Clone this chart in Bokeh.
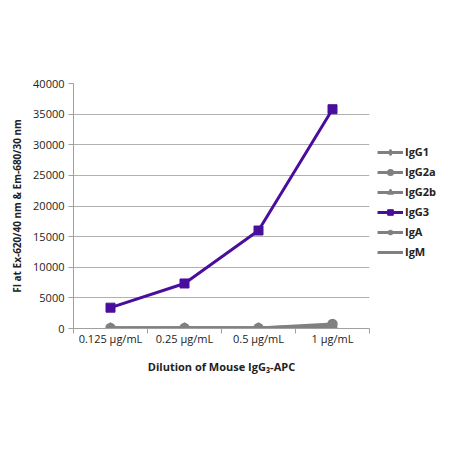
from bokeh.plotting import figure
from bokeh.models import FixedTicker, Range1d, Legend, LegendItem
from bokeh.embed import file_html
from bokeh.resources import INLINE

categories = ["0.125 µg/mL", "0.25 µg/mL", "0.5 µg/mL", "1 µg/mL"]
igg1 = [60, 70, 80, 350]
igg2a = [80, 90, 100, 750]
igg2b = [70, 80, 90, 550]
igg3 = [3400, 7350, 16000, 35800]
iga = [50, 60, 70, 250]
igm = [40, 50, 60, 150]
y_ticks = [0, 5000, 10000, 15000, 20000, 25000, 30000, 35000, 40000]

xpos = [i + 0.5 for i in range(len(categories))]
FONT = "Open Sans"
GRAY = "#808080"
PURPLE = "#4a0e9c"

p = figure(frame_width=296, frame_height=245, output_backend="svg", toolbar_location=None,
           x_range=Range1d(0, len(categories)), y_range=Range1d(0, 40000),
           min_border_left=73, min_border_top=83, min_border_bottom=50, min_border_right=0)
p.outline_line_color = None
p.background_fill_color = "white"

series = [
    ("IgG1", igg1, "diamond", 7),
    ("IgG2a", igg2a, "circle", 9),
    ("IgG2b", igg2b, "triangle", 9),
    ("IgA", iga, "asterisk", 8),
    ("IgM", igm, "dash", 8),
]
items = {}
for name, vals, marker, size in series:
    l = p.line(xpos, vals, line_color=GRAY, line_width=3)
    s = p.scatter(xpos, vals, marker=marker, size=size, fill_color=GRAY, line_color=GRAY, line_width=1.5)
    items[name] = [l, s]

l3 = p.line(xpos, igg3, line_color=PURPLE, line_width=3)
s3 = p.scatter(xpos, igg3, marker="square", size=9, fill_color=PURPLE, line_color=PURPLE)
items["IgG3"] = [l3, s3]

order = ["IgG1", "IgG2a", "IgG2b", "IgG3", "IgA", "IgM"]
legend = Legend(items=[LegendItem(label=n, renderers=items[n]) for n in order],
                location=(8, 69), border_line_color=None, background_fill_alpha=0,
                label_text_font=FONT, label_text_font_size="11px", label_text_font_style="bold",
                label_text_color="#222222", glyph_width=26, glyph_height=14, spacing=5,
                label_standoff=2, padding=4, margin=4, label_height=14)
p.add_layout(legend, "right")

# X axis
p.xaxis.ticker = FixedTicker(ticks=xpos, minor_ticks=list(range(len(categories) + 1)))
p.xaxis.major_label_overrides = {x: c for x, c in zip(xpos, categories)}
p.xaxis.major_tick_line_color = None
p.xaxis.major_tick_out = 0
p.xaxis.major_tick_in = 0
p.xaxis.minor_tick_line_color = "#a0a0a0"
p.xaxis.minor_tick_out = 5
p.xaxis.minor_tick_in = 0
p.xaxis.axis_line_color = "#a0a0a0"
p.xaxis.major_label_text_font = FONT
p.xaxis.major_label_text_font_size = "11px"
p.xaxis.major_label_text_color = "#222222"
p.xaxis.major_label_standoff = -3
p.xaxis.axis_label = "Dilution of Mouse IgG₃-APC"
p.xaxis.axis_label_text_font = FONT
p.xaxis.axis_label_text_font_size = "11px"
p.xaxis.axis_label_text_font_style = "bold"
p.xaxis.axis_label_text_color = "#222222"
p.xaxis.axis_label_standoff = 10
p.xgrid.visible = False

# Y axis
p.yaxis.ticker = FixedTicker(ticks=y_ticks)
p.yaxis.minor_tick_line_color = None
p.yaxis.major_tick_line_color = "#a0a0a0"
p.yaxis.major_tick_out = 5
p.yaxis.major_tick_in = 0
p.yaxis.axis_line_color = "#a0a0a0"
p.yaxis.major_label_text_font = FONT
p.yaxis.major_label_text_font_size = "11px"
p.yaxis.major_label_text_color = "#222222"
p.yaxis.major_label_standoff = 4
p.yaxis.axis_label = "FI at Ex-620/40 nm & Em-680/30 nm"
p.yaxis.axis_label_text_font = FONT
p.yaxis.axis_label_text_font_size = "10px"
p.yaxis.axis_label_text_font_style = "bold"
p.yaxis.axis_label_text_color = "#222222"
p.yaxis.axis_label_standoff = 6
p.ygrid.grid_line_color = "#b0b0b0"

open("out.html", "w").write(file_html(p, INLINE))
